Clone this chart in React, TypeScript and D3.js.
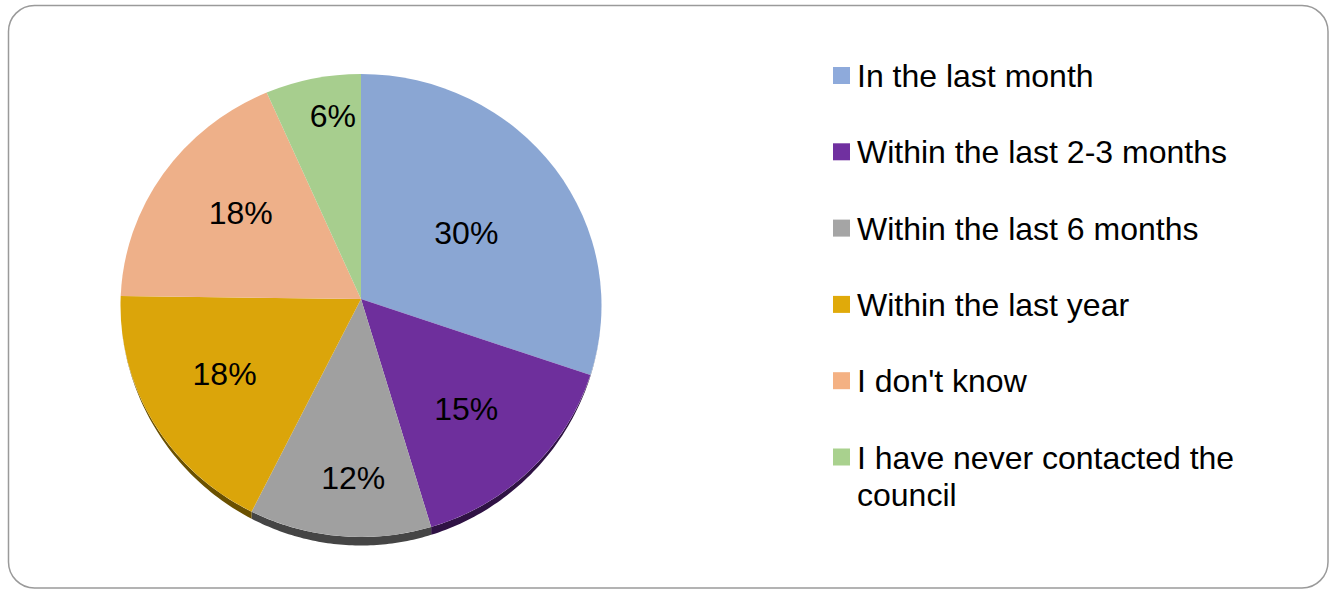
import React from "react";
import * as d3 from "d3";

// ---- data ----
const categories: string[] = [
  "In the last month",
  "Within the last 2-3 months",
  "Within the last 6 months",
  "Within the last year",
  "I don't know",
  "I have never contacted the council",
];
const shares: number[] = [29.8, 15.4, 12.2, 18.1, 17.9, 6.4];
const legendLines: string[][] = [
  ["In the last month"],
  ["Within the last 2-3 months"],
  ["Within the last 6 months"],
  ["Within the last year"],
  ["I don't know"],
  ["I have never contacted the", "council"],
];

// ---- styles / layout ----
const sliceColors = ["#8AA6D3", "#6E2F9C", "#A0A0A0", "#DBA50A", "#EEB089", "#A7CE8E"];
const legendColors = ["#8EAADB", "#7030A0", "#A5A5A5", "#E0AA0A", "#F4B183", "#A9D18E"];
const sideColors = ["#4a5c78", "#2f1244", "#454545", "#6a5000", "#7a5a45", "#55684a"];
// label placement as fraction of the radii (horizontal, vertical) along each slice's mid-angle
const labelFx = [0.543, 0.622, 0.37, 0.657, 0.608, 0.586];
const labelFy = [0.53, 0.624, 0.745, 0.579, 0.705, 0.837];

const W = 1332;
const H = 590;
const CX = 361;
const CY = 305.5;
const RX = 240.5;
const RY = 231.5;
const APEX_Y = 299;
const DEPTH = 8.5;
const FONT = "'Liberation Sans', Arial, Helvetica, sans-serif";

function pt(a: number, dy = 0): [number, number] {
  return [CX + RX * Math.sin(a), CY - RY * Math.cos(a) + dy];
}

function facePath(a0: number, a1: number): string {
  const p0 = pt(a0);
  const p1 = pt(a1);
  const large = a1 - a0 > Math.PI ? 1 : 0;
  return `M${CX},${APEX_Y}L${p0[0]},${p0[1]}A${RX},${RY} 0 ${large} 1 ${p1[0]},${p1[1]}Z`;
}

function depthAt(a: number): number {
  const c = -Math.cos(a);
  return c > 0 ? DEPTH * Math.pow(c, 1.6) : 0;
}

function sidePath(a0: number, a1: number): string | null {
  const lo = Math.max(a0, Math.PI / 2);
  const hi = Math.min(a1, (3 * Math.PI) / 2);
  if (hi <= lo) return null;
  const n = 60;
  const top: [number, number][] = [];
  const bot: [number, number][] = [];
  for (let k = 0; k <= n; k++) {
    const a = lo + ((hi - lo) * k) / n;
    top.push(pt(a));
    bot.push(pt(a, depthAt(a)));
  }
  const pts = top.concat(bot.reverse());
  return d3.line()(pts) + "Z";
}

export default function App() {
  const pie = d3.pie<number>().sort(null).value((d) => d);
  const arcs = pie(shares);

  const legendX = 833;
  const legendY0 = 87;
  const legendStep = 76.3;

  return (
    <svg
      width={W}
      height={H}
      style={{ position: "absolute", left: 0, top: 0, background: "#fff" }}
      fontFamily={FONT}
    >
      <rect x={8.5} y={5.5} width={1319.5} height={582.5} rx={26} ry={26} fill="#fff" stroke="#9a9a9a" strokeWidth={1.5} />

      {/* sides */}
      {arcs.map((a, i) => {
        const d = sidePath(a.startAngle, a.endAngle);
        return d ? <path key={"s" + i} d={d} fill={sideColors[i]} /> : null;
      })}

      {/* faces */}
      {arcs.map((a, i) => (
        <path key={"f" + i} d={facePath(a.startAngle, a.endAngle)} fill={sliceColors[i]} />
      ))}

      {/* labels */}
      {arcs.map((a, i) => {
        const m = (a.startAngle + a.endAngle) / 2;
        const x = CX + labelFx[i] * RX * Math.sin(m);
        const y = CY - labelFy[i] * RY * Math.cos(m);
        return (
          <text key={"l" + i} x={x} y={y} dy="0.36em" textAnchor="middle" fontSize={32} fill="#000">
            {Math.round(shares[i]) + "%"}
          </text>
        );
      })}

      {/* legend */}
      {categories.map((c, i) => {
        const by = legendY0 + i * legendStep;
        return (
          <g key={"g" + i}>
            <rect x={legendX} y={by - 20} width={17} height={17} fill={legendColors[i]} />
            <text x={857} y={by} fontSize={32} fill="#000">
              {legendLines[i].map((ln, j) => (
                <tspan key={j} x={857} dy={j === 0 ? 0 : 37}>
                  {ln}
                </tspan>
              ))}
            </text>
          </g>
        );
      })}
    </svg>
  );
}
